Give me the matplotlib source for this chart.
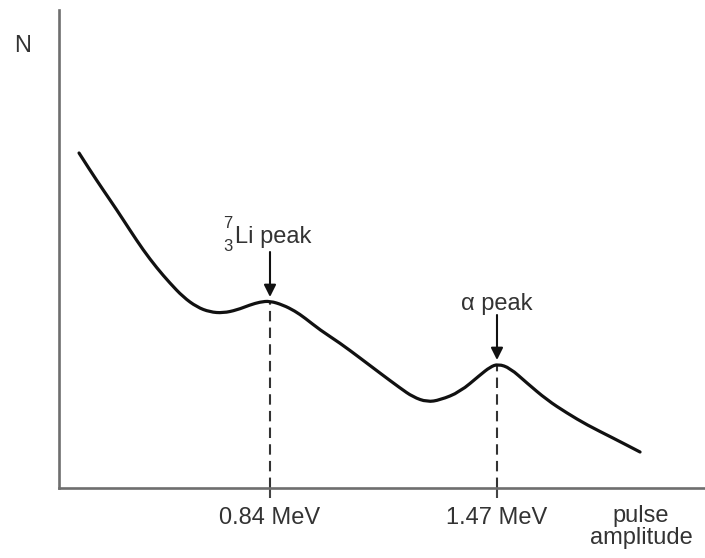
import matplotlib
matplotlib.use("Agg")
import matplotlib.pyplot as plt
from matplotlib.path import Path
from matplotlib.patches import PathPatch

plt.rcParams['font.family'] = ['Liberation Sans', 'DejaVu Sans']

# pulse amplitude (MeV) and counts N (arbitrary units)
amplitude = [0.310, 0.340, 0.377, 0.415, 0.451, 0.488, 0.526, 0.562, 0.599, 0.637,
             0.673, 0.710, 0.748, 0.784, 0.812, 0.840, 0.876, 0.909, 0.937, 0.979,
             1.034, 1.090, 1.145, 1.201, 1.237, 1.276, 1.312, 1.367, 1.423, 1.451,
             1.473, 1.506, 1.553, 1.609, 1.664, 1.720, 1.792, 1.867]
counts = [3.35, 3.18, 2.98, 2.78, 2.58, 2.38, 2.20, 2.05, 1.91, 1.81,
          1.76, 1.75, 1.78, 1.83, 1.86, 1.87, 1.83, 1.77, 1.70, 1.58,
          1.45, 1.30, 1.15, 1.00, 0.91, 0.86, 0.88, 0.96, 1.13, 1.21,
          1.24, 1.20, 1.05, 0.88, 0.75, 0.63, 0.50, 0.36]

peak_positions = [0.84, 1.47]
peak_heights = [1.87, 1.24]
tick_labels = ["0.84 MeV", "1.47 MeV"]

W, H = 705, 558
fig = plt.figure(figsize=(W / 100, H / 100), dpi=100)
ax = fig.add_axes([59 / W, (H - 488) / H, (W - 59) / W, (488 - 10) / H])
ax.set_xlim(0.2544, 2.0473)
ax.set_ylim(0, 4.78)

axis_col = '#6e6e6e'
text_col = '#333333'
for s in ['top', 'right']:
    ax.spines[s].set_visible(False)
for s in ['left', 'bottom']:
    ax.spines[s].set_color(axis_col)
    ax.spines[s].set_linewidth(1.9)

ax.set_yticks([])
ax.set_xticks(peak_positions)
ax.set_xticklabels(tick_labels, fontsize=17, color=text_col)
ax.tick_params(axis='x', direction='out', length=7, width=1.5, color='#444444', pad=7)

# dashed guide lines
ax.vlines(peak_positions, 0, peak_heights, colors='#333333', linestyles=(0, (5, 3)),
          linewidth=1.5, zorder=2)

# smooth curve: read points used as quadratic control points
pts = list(zip(amplitude, counts))
verts = [pts[0]]
codes = [Path.MOVETO]
for i in range(1, len(pts) - 1):
    mid = ((pts[i][0] + pts[i + 1][0]) / 2, (pts[i][1] + pts[i + 1][1]) / 2)
    verts += [pts[i], mid]
    codes += [Path.CURVE3, Path.CURVE3]
verts.append(pts[-1])
codes.append(Path.LINETO)
ax.add_patch(PathPatch(Path(verts, codes), fill=False, edgecolor='#111111',
                       linewidth=2.3, capstyle='round', joinstyle='round', zorder=3))

# arrows
arrow_props = dict(arrowstyle='-|>', color='#111111', lw=1.5, mutation_scale=18,
                   shrinkA=0, shrinkB=0)
ax.annotate('', xy=(0.84, 1.91), xytext=(0.84, 2.36), arrowprops=arrow_props)
ax.annotate('', xy=(1.47, 1.28), xytext=(1.47, 1.73), arrowprops=arrow_props)

def fx(px):
    return px / W

def fy(py):
    return 1 - py / H

# texts
fig.text(fx(23), fy(46), "N", fontsize=17, color=text_col, ha='center', va='center')
fig.text(fx(228), fy(224), "7", fontsize=12, color=text_col, ha='center', va='center')
fig.text(fx(228), fy(246), "3", fontsize=12, color=text_col, ha='center', va='center')
fig.text(fx(235), fy(243), "Li peak", fontsize=17, color=text_col, ha='left', va='baseline')
fig.text(fx(497), fy(310), "\u03b1 peak", fontsize=17, color=text_col, ha='center',
         va='baseline')
fig.text(fx(641), fy(516), "pulse", fontsize=17, color=text_col, ha='center', va='center')
fig.text(fx(641), fy(538), "amplitude", fontsize=17, color=text_col, ha='center',
         va='center')

fig.savefig("out.png", dpi=100, facecolor='white')
